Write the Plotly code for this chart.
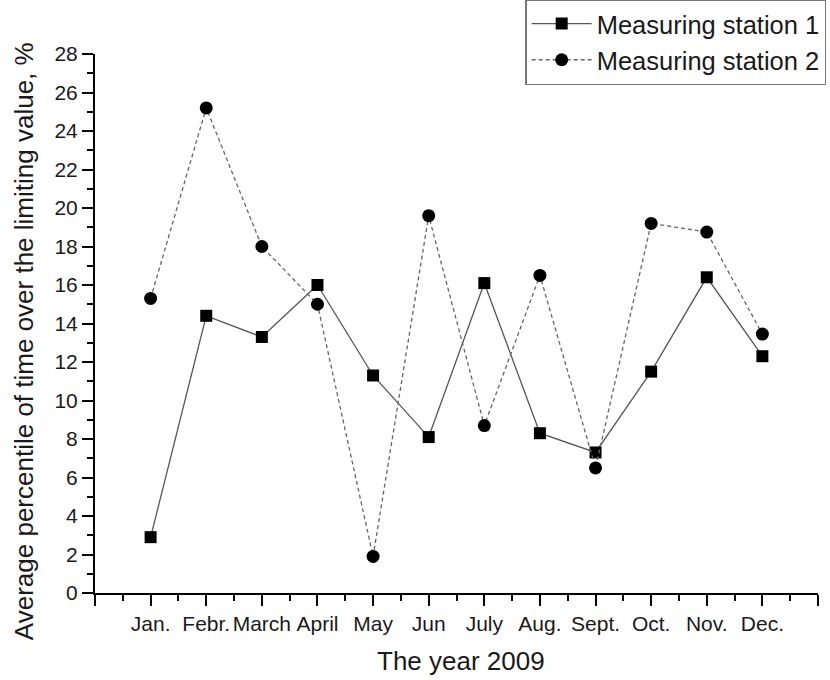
import plotly.graph_objects as go

months = ["Jan.", "Febr.", "March", "April", "May", "Jun", "July", "Aug.", "Sept.", "Oct.", "Nov.", "Dec."]
station1 = [2.9, 14.4, 13.3, 16.0, 11.3, 8.1, 16.1, 8.3, 7.3, 11.5, 16.4, 12.3]
station2 = [15.3, 25.2, 18.0, 15.0, 1.9, 19.6, 8.7, 16.5, 6.5, 19.2, 18.75, 13.45]

xpos = list(range(1, len(months) + 1))
FONT = "Arial, Liberation Sans, sans-serif"
TXT = "#1a1a1a"

fig = go.Figure()
fig.add_trace(go.Scatter(
    x=xpos, y=station1, name="Measuring station 1", mode="lines+markers",
    line=dict(color="#555555", width=1.3),
    marker=dict(symbol="square", size=12, color="black"),
))
fig.add_trace(go.Scatter(
    x=xpos, y=station2, name="Measuring station 2", mode="lines+markers",
    line=dict(color="#666666", width=1.3, dash="4px,3px"),
    marker=dict(symbol="circle", size=13, color="black"),
))

n = len(months)
tickvals = list(range(0, n + 2))
ticktext = [""] + months + [""]

fig.update_layout(
    width=830, height=680,
    margin=dict(l=95, r=12, t=54, b=87, autoexpand=False),
    paper_bgcolor="white", plot_bgcolor="white",
    font=dict(family=FONT, color=TXT, size=21),
    showlegend=True,
    legend=dict(
        x=0.595, y=1.102, xanchor="left", yanchor="top",
        bordercolor="#777777", borderwidth=1.5,
        font=dict(size=25.5, family=FONT, color=TXT),
        itemwidth=60, tracegroupgap=0, bgcolor="white",
    ),
    xaxis=dict(
        range=[0, n + 1], tickmode="array", tickvals=tickvals, ticktext=ticktext,
        tickangle=0,
        showgrid=False, zeroline=False, showline=True, linecolor="black", linewidth=2,
        ticks="outside", ticklen=11, tickwidth=2, tickcolor="black",
        minor=dict(tickmode="array", tickvals=[v + 0.5 for v in range(0, n + 1)],
                   ticks="outside", ticklen=6, tickwidth=2, tickcolor="black", showgrid=False),
        tickfont=dict(size=21, family=FONT, color=TXT),
    ),
    yaxis=dict(
        range=[0, 28], tickmode="linear", tick0=0, dtick=2,
        showgrid=False, zeroline=False, showline=True, linecolor="black", linewidth=2,
        ticks="outside", ticklen=11, tickwidth=2, tickcolor="black",
        minor=dict(dtick=1, ticks="outside", ticklen=6, tickwidth=2, tickcolor="black", showgrid=False),
        tickfont=dict(size=21, family=FONT, color=TXT),
    ),
    annotations=[
        dict(text="The year 2009", xref="paper", yref="paper", x=0.506, y=-0.126,
             xanchor="center", yanchor="middle", showarrow=False,
             font=dict(size=26, family=FONT, color=TXT)),
        dict(text="Average percentile of time over the limiting value, %", xref="paper", yref="paper",
             x=-0.098, y=0.4675, xanchor="center", yanchor="middle", textangle=-90, showarrow=False,
             font=dict(size=26, family=FONT, color=TXT)),
    ],
)

fig.write_html("out.html")
